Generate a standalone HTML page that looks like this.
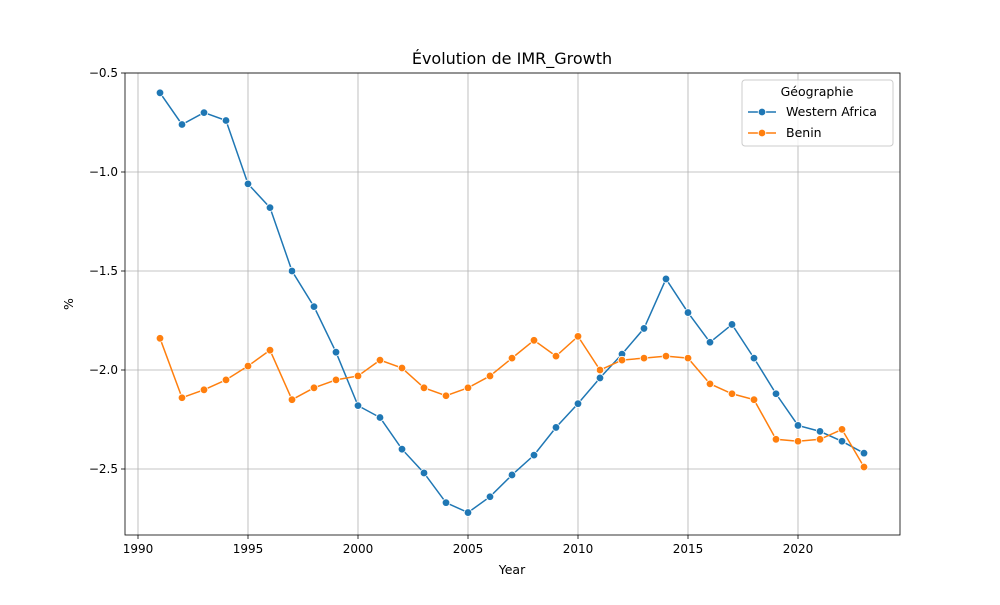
<!DOCTYPE html>
<html><head><meta charset="utf-8"><style>
body{margin:0;background:#fff;font-family:"Liberation Sans","DejaVu Sans",sans-serif}
svg text{font-family:"DejaVu Sans","Liberation Sans",sans-serif}
</style></head><body>
<svg id="chart" width="1000" height="600" xmlns="http://www.w3.org/2000/svg"></svg>
<script>
const years=[1991,1992,1993,1994,1995,1996,1997,1998,1999,2000,2001,2002,2003,2004,2005,2006,2007,2008,2009,2010,2011,2012,2013,2014,2015,2016,2017,2018,2019,2020,2021,2022,2023];
const westernAfrica=[-0.60,-0.76,-0.70,-0.74,-1.06,-1.18,-1.50,-1.68,-1.91,-2.18,-2.24,-2.40,-2.52,-2.67,-2.72,-2.64,-2.53,-2.43,-2.29,-2.17,-2.04,-1.92,-1.79,-1.54,-1.71,-1.86,-1.77,-1.94,-2.12,-2.28,-2.31,-2.36,-2.42];
const benin=[-1.84,-2.14,-2.10,-2.05,-1.98,-1.90,-2.15,-2.09,-2.05,-2.03,-1.95,-1.99,-2.09,-2.13,-2.09,-2.03,-1.94,-1.85,-1.93,-1.83,-2.00,-1.95,-1.94,-1.93,-1.94,-2.07,-2.12,-2.15,-2.35,-2.36,-2.35,-2.30,-2.49];
const xTicks=[1990,1995,2000,2005,2010,2015,2020];
const yTicks=[-0.5,-1.0,-1.5,-2.0,-2.5];
const NS="http://www.w3.org/2000/svg";
const svg=document.getElementById('chart');
const L=125,R=900,T=73,B=535;
const x=v=>138+(v-1990)*22;
const y=v=>73+(-0.5-v)*198;
function mk(tag,attrs,parent){const e=document.createElementNS(NS,tag);for(const k in attrs)e.setAttribute(k,attrs[k]);(parent||svg).appendChild(e);return e;}
const grid=mk('g',{});


xTicks.forEach(t=>{
 mk('line',{x1:x(t),x2:x(t),y1:T,y2:B,stroke:'#b0b0b0','stroke-width':0.8},grid);
 mk('line',{x1:x(t),x2:x(t),y1:B,y2:B+4,stroke:'#000','stroke-width':0.8});
 const tx=mk('text',{x:x(t),y:B+18,'text-anchor':'middle','font-size':12});
 tx.textContent=t;
 
 
});
yTicks.forEach(t=>{
 mk('line',{x1:L,x2:R,y1:y(t),y2:y(t),stroke:'#b0b0b0','stroke-width':0.8},grid);
 mk('line',{x1:L-4,x2:L,y1:y(t),y2:y(t),stroke:'#000','stroke-width':0.8});
 const tx=mk('text',{x:L-7,y:y(t)+4,'text-anchor':'end','font-size':12});
 tx.textContent=t.toFixed(1).replace('-','\u2212');
 
 
});
function series(vals,color,name){
 const g=mk('g',{});
 
 
 mk('polyline',{points:vals.map((v,i)=>x(years[i])+','+y(v)).join(' '),fill:'none',stroke:color,'stroke-width':1.5},g);
 vals.forEach((v,i)=>{
  const c=mk('circle',{cx:x(years[i]),cy:y(v),r:3.8,fill:color,stroke:'#fff','stroke-width':0.8},g);
  
  
 });
}
series(westernAfrica,'#1f77b4','series-western-africa');
series(benin,'#ff7f0e','series-benin');
const frame=mk('rect',{x:L,y:T,width:R-L,height:B-T,fill:'none',stroke:'#000','stroke-width':0.8});


const title=mk('text',{x:512,y:64,'text-anchor':'middle','font-size':16});
title.textContent='Évolution de IMR_Growth';


const xl=mk('text',{x:512,y:574,'text-anchor':'middle','font-size':12.5});
xl.textContent='Year';


const yl=mk('text',{x:73,y:304,'text-anchor':'middle','font-size':12.5,transform:'rotate(-90 73 304)'});
yl.textContent='%';


const lg=mk('g',{});


mk('rect',{x:742,y:80,width:151,height:66,rx:3,fill:'#fff','fill-opacity':0.8,stroke:'#ccc'},lg);
const lt=mk('text',{x:817,y:96,'text-anchor':'middle','font-size':12.5},lg);
lt.textContent='Géographie';
[['Western Africa','#1f77b4',112],['Benin','#ff7f0e',133]].forEach(([n,c,yy])=>{
 const e=mk('g',{},lg);
 
 
 mk('line',{x1:748,x2:776,y1:yy,y2:yy,stroke:c,'stroke-width':1.5},e);
 mk('circle',{cx:762,cy:yy,r:3.8,fill:c,stroke:'#fff','stroke-width':0.8},e);
 const t=mk('text',{x:786,y:yy+4,'font-size':12.5},e);
 t.textContent=n;
});
</script>
</body></html>
